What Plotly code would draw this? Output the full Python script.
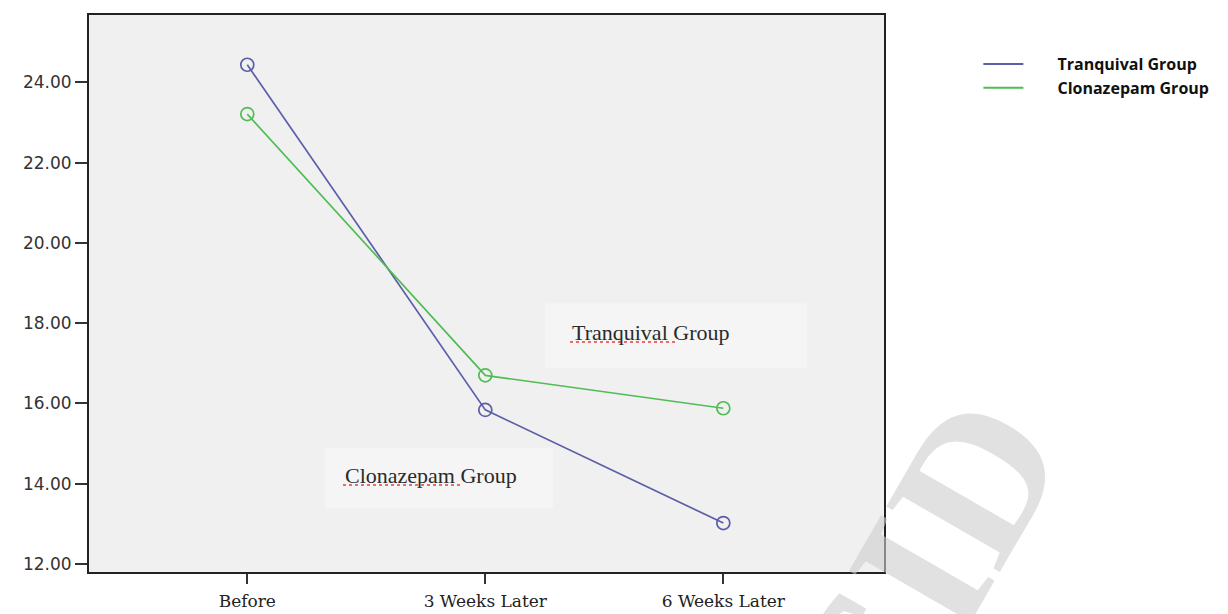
import plotly.graph_objects as go

categories = ["Before", "3 Weeks Later", "6 Weeks Later"]
tranquival = [24.44, 15.84, 13.02]
clonazepam = [23.21, 16.70, 15.88]
series_names = ["Tranquival Group", "Clonazepam Group"]
y_ticks = [12, 14, 16, 18, 20, 22, 24]
y_tick_labels = ["12.00", "14.00", "16.00", "18.00", "20.00", "22.00", "24.00"]

blue = "#5b5ea8"
green = "#4fbd53"
xpos = list(range(len(categories)))
NB = "\u00a0" * 7

fig = go.Figure()
for name, vals, col in [(series_names[0], tranquival, blue), (series_names[1], clonazepam, green)]:
    fig.add_trace(go.Scatter(x=xpos, y=vals, mode="lines+markers", name=name,
                             line=dict(color=col, width=1.7),
                             marker=dict(symbol="circle-open", size=13, color=col, line=dict(width=1.7)),
                             showlegend=False))
    fig.add_trace(go.Scatter(x=[None], y=[None], mode="lines", name=NB + name,
                             line=dict(color=col, width=2), showlegend=True))

# faint boxes behind the in-plot labels
fig.add_shape(type="rect", x0=1.251, x1=2.352, y0=16.88, y1=18.50, xref="x", yref="y",
              fillcolor="#f5f5f5", line=dict(width=0), layer="below")
fig.add_shape(type="rect", x0=0.3265, x1=1.2844, y0=13.395, y1=14.89, xref="x", yref="y",
              fillcolor="#f5f5f5", line=dict(width=0), layer="below")

fig.add_annotation(x=1.356, y=17.756, xref="x", yref="y", text="Tranquival Group", showarrow=False,
                   font=dict(family="Liberation Serif", size=22, color="#2a2a2a"),
                   xanchor="left", yanchor="middle")
fig.add_annotation(x=0.402, y=14.217, xref="x", yref="y", text="Clonazepam Group", showarrow=False,
                   font=dict(family="Liberation Serif", size=22, color="#2a2a2a"),
                   xanchor="left", yanchor="middle")

# red spell-check underlines (decoration)
fig.add_shape(type="line", x0=(570 - 89) / 795, x1=(676 - 89) / 795, y0=(572 - 342) / 557, y1=(572 - 342) / 557,
              xref="paper", yref="paper", line=dict(color="#e04040", width=1.5, dash="dot"))
fig.add_shape(type="line", x0=(343 - 89) / 795, x1=(460 - 89) / 795, y0=(572 - 485) / 557, y1=(572 - 485) / 557,
              xref="paper", yref="paper", line=dict(color="#e04040", width=1.5, dash="dot"))

# watermark (cut off by the bottom edge, as in the source image)
fig.add_annotation(x=(928 - 89) / 795, y=(572 - 560) / 557, xref="paper", yref="paper", text="<b>SID</b>",
                   showarrow=False, textangle=-60, xanchor="center", yanchor="middle",
                   font=dict(family="Liberation Serif", size=200, color="rgba(205,205,205,0.6)"))

fig.update_layout(
    width=1228, height=614,
    margin=dict(l=89, r=344, t=15, b=42),
    paper_bgcolor="white", plot_bgcolor="#f0f0f0",
    legend=dict(x=1.1187, y=0.9425, xanchor="left", yanchor="top",
                font=dict(family="Open Sans", size=16, color="#111", weight="bold"),
                bgcolor="rgba(0,0,0,0)", itemwidth=40, tracegroupgap=0),
    xaxis=dict(range=[-0.665, 2.675], tickmode="array", tickvals=xpos, ticktext=categories,
               showgrid=False, zeroline=False, showline=True, linecolor="#222", linewidth=2,
               mirror=True, ticks="outside", ticklen=10, tickwidth=2, tickcolor="#333",
               ticklabelstandoff=3, automargin=False,
               tickfont=dict(family="DejaVu Serif", size=17, color="#222")),
    yaxis=dict(range=[11.8, 25.68], tickmode="array", tickvals=y_ticks, ticktext=y_tick_labels,
               showgrid=False, zeroline=False, showline=True, linecolor="#222", linewidth=2,
               mirror=True, ticks="outside", ticklen=12, tickwidth=2, tickcolor="#333",
               automargin=False,
               tickfont=dict(family="DejaVu Sans", size=17, color="#333")),
)

fig.write_html("out.html", config={"displayModeBar": False},
               post_script="document.body.style.margin='0';")
